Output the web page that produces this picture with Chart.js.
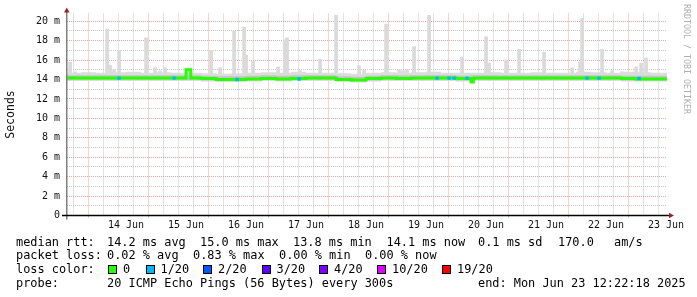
<!DOCTYPE html>
<html>
<head>
<meta charset="utf-8">
<script src="https://cdn.jsdelivr.net/npm/chart.js@4.4.1/dist/chart.umd.min.js"></script>
<style>
  body { margin: 0; background: #fff; }
  #wrap { position: relative; width: 697px; height: 297px; overflow: hidden; background: #fff; }
  #graph { position: absolute; left: 0; top: 0; }
  .leg { position: absolute; font-family: 'DejaVu Sans Mono', monospace; font-size: 11.9px; line-height: 14px; color: #000; white-space: pre; }
  .box { position: absolute; width: 7px; height: 7px; border: 1px solid #000; }
  #credit { position: absolute; left: 682px; top: 4px; writing-mode: vertical-rl; font-family: 'DejaVu Sans Mono', monospace; font-size: 8.3px; color: #b0b0b0; }
</style>
</head>
<body>
<div id="wrap">
  <canvas id="graph" width="697" height="297"></canvas>
  <div id="credit">RRDTOOL / TOBI OETIKER</div>
  <div id="legend"></div>
</div>
<script>
// time axis in hours since 13 Jun 00:00, graph covers 13 Jun 12:22 -> 23 Jun 12:22
const startHour = 12.37;
const endHour = 252.37;
const dayLabels = ['13 Jun', '14 Jun', '15 Jun', '16 Jun', '17 Jun', '18 Jun', '19 Jun', '20 Jun', '21 Jun', '22 Jun', '23 Jun'];
const yTickValues = [0, 2, 4, 6, 8, 10, 12, 14, 16, 18, 20];

// median rtt (ms)
const medianHours = [12, 18, 24, 30, 36, 42, 48, 54, 60, 61.9, 62.1, 66, 72, 78, 84, 90, 96, 102, 108, 114, 120, 126, 132, 138, 144, 150, 156, 162, 168, 174, 174.9, 175.4, 180, 186, 192, 198, 204, 210, 216, 222, 228, 234, 240, 246, 252.4];
const medianMs = [14.15, 14.15, 14.15, 14.15, 14.15, 14.15, 14.15, 14.15, 14.15, 15.0, 14.15, 14.15, 14.1, 14.0, 14.0, 14.05, 14.1, 14.05, 14.1, 14.15, 14.15, 14.0, 13.95, 14.1, 14.15, 14.1, 14.15, 14.15, 14.15, 14.1, 13.75, 14.1, 14.15, 14.15, 14.15, 14.15, 14.15, 14.15, 14.15, 14.15, 14.15, 14.15, 14.1, 14.05, 14.05];

// smoke band around the median
const bandHours = [12, 18, 24, 30, 36, 42, 48, 54, 60, 66, 72, 78, 84, 90, 96, 102, 108, 114, 120, 126, 132, 138, 144, 150, 156, 162, 168, 174, 180, 186, 192, 198, 204, 210, 216, 222, 228, 234, 240, 246, 252.4];
const smokeTop = [14.8, 14.7, 14.75, 14.7, 14.75, 14.8, 14.7, 14.75, 14.7, 14.7, 14.65, 14.6, 14.65, 14.7, 14.75, 14.7, 14.8, 14.7, 14.7, 14.65, 14.6, 14.7, 14.75, 14.7, 14.75, 14.8, 14.7, 14.7, 14.7, 14.75, 14.7, 14.7, 14.75, 14.7, 14.7, 14.8, 14.75, 14.7, 14.8, 14.75, 14.7];
const smokeBottom = [13.85, 13.85, 13.85, 13.85, 13.85, 13.85, 13.85, 13.85, 13.85, 13.85, 13.8, 13.75, 13.75, 13.8, 13.85, 13.8, 13.85, 13.85, 13.85, 13.75, 13.7, 13.8, 13.85, 13.85, 13.85, 13.85, 13.85, 13.8, 13.85, 13.85, 13.85, 13.85, 13.85, 13.85, 13.85, 13.85, 13.85, 13.85, 13.8, 13.8, 13.8];
const innerTop = [14.45, 14.45, 14.45, 14.45, 14.45, 14.45, 14.45, 14.45, 14.45, 14.45, 14.4, 14.35, 14.35, 14.4, 14.45, 14.4, 14.45, 14.45, 14.45, 14.35, 14.3, 14.4, 14.45, 14.45, 14.45, 14.45, 14.45, 14.4, 14.45, 14.45, 14.45, 14.45, 14.45, 14.45, 14.45, 14.45, 14.45, 14.45, 14.4, 14.4, 14.4];
const innerBottom = [13.95, 13.95, 13.95, 13.95, 13.95, 13.95, 13.95, 13.95, 13.95, 13.95, 13.9, 13.85, 13.85, 13.9, 13.95, 13.9, 13.95, 13.95, 13.95, 13.85, 13.8, 13.9, 13.95, 13.95, 13.95, 13.95, 13.95, 13.9, 13.95, 13.95, 13.95, 13.95, 13.95, 13.95, 13.95, 13.95, 13.95, 13.95, 13.9, 13.9, 13.9];

// slow pings (smoke spikes)
const spikeHours = [13.6, 15.6, 28.4, 29.6, 31.2, 33.2, 44.0, 47.6, 49.6, 51.6, 70.0, 73.6, 79.2, 83.2, 84.0, 86.8, 90.8, 96.8, 99.6, 100.4, 102.8, 105.6, 113.6, 120.0, 129.2, 131.2, 140.0, 145.2, 146.8, 148.4, 151.2, 157.2, 167.2, 170.4, 180.0, 181.2, 188.0, 193.2, 203.2, 214.4, 217.6, 218.4, 226.4, 230.4, 234.4, 240.0, 242.0, 244.0, 246.8];
const spikeTopMs = [15.8, 14.8, 19.2, 15.5, 15.0, 17.0, 18.3, 15.2, 14.9, 15.2, 17.0, 15.2, 19.0, 19.4, 16.5, 15.9, 14.6, 15.3, 18.1, 18.3, 14.7, 14.9, 16.1, 20.6, 15.4, 15.0, 19.7, 15.0, 14.9, 15.0, 17.4, 20.6, 14.6, 16.3, 18.4, 15.7, 16.0, 17.1, 16.8, 15.2, 15.8, 20.3, 17.1, 14.9, 14.8, 15.3, 15.7, 16.2, 14.6];

// loss
const lossLevels = ['0', '1/20', '2/20', '3/20', '4/20', '10/20', '19/20'];
const lossColors = ['#26ff00', '#00b8ff', '#0059ff', '#5e00ff', '#7e00ff', '#dd00ff', '#ff0000'];
const lossHours = [33.2, 55.2, 80.4, 105.2, 160.4, 165.2, 167.2, 172.4, 220.4, 225.2, 241.2];
const lossLevelIdx = [1, 1, 1, 1, 1, 1, 1, 1, 1, 1, 1];

// legend text
const rttStats = ['14.2 ms avg', '15.0 ms max', '13.8 ms min', '14.1 ms now', '0.1 ms sd', '170.0', 'am/s'];
const lossStats = ['0.02 % avg', '0.83 % max', '0.00 % min', '0.00 % now'];
const probeText = '20 ICMP Echo Pings (56 Bytes) every 300s';
const endText = 'end: Mon Jun 23 12:22:18 2025';

function medianAt(h) {
  let v = medianMs[0];
  for (let i = 0; i < medianHours.length; i++) {
    if (medianHours[i] <= h) v = medianMs[i];
  }
  return v;
}

function pts(hours, vals) {
  return hours.map((h, i) => ({x: h, y: vals[i]}));
}

const gridRed = 'rgb(232,168,168)';
const gridGray = 'rgb(200,200,200)';

const axisArrows = {
  id: 'axisArrows',
  afterDraw(chart) {
    const ctx = chart.ctx;
    const a = chart.chartArea;
    ctx.save();
    // y axis
    ctx.strokeStyle = '#808080';
    ctx.lineWidth = 1.5;
    ctx.beginPath();
    ctx.moveTo(66.75, a.bottom + 4);
    ctx.lineTo(66.75, a.top - 3);
    ctx.stroke();
    // x axis
    ctx.strokeStyle = '#000';
    ctx.lineWidth = 1.5;
    ctx.beginPath();
    ctx.moveTo(62, a.bottom);
    ctx.lineTo(a.right + 3, a.bottom);
    ctx.stroke();
    ctx.fillStyle = '#9b2222';
    ctx.beginPath();
    ctx.moveTo(66.75, a.top - 6);
    ctx.lineTo(64, a.top - 1);
    ctx.lineTo(69.5, a.top - 1);
    ctx.fill();
    ctx.beginPath();
    ctx.moveTo(a.right + 7, a.bottom);
    ctx.lineTo(a.right + 2, a.bottom - 2.75);
    ctx.lineTo(a.right + 2, a.bottom + 2.75);
    ctx.fill();
    ctx.restore();
  }
};

const ctx = document.getElementById('graph').getContext('2d');
new Chart(ctx, {
  type: 'bar',
  data: {
    datasets: [
      {
        type: 'scatter',
        data: lossHours.map(h => ({x: h, y: medianAt(h)})),
        pointStyle: 'rect',
        pointRadius: 2.4,
        pointBorderWidth: 0,
        pointBackgroundColor: lossLevelIdx.map(i => lossColors[i]),
        order: -1
      },
      {
        type: 'line',
        data: pts(medianHours, medianMs),
        borderColor: lossColors[0],
        borderWidth: 3,
        stepped: 'after',
        pointRadius: 0,
        fill: false,
        order: 0
      },
      {
        type: 'line',
        data: pts(bandHours, innerTop),
        borderWidth: 0,
        borderColor: 'rgba(0,0,0,0)',
        stepped: 'after',
        pointRadius: 0,
        fill: '+1',
        backgroundColor: '#c4c4c4',
        order: 2
      },
      {
        type: 'line',
        data: pts(bandHours, innerBottom),
        borderWidth: 0,
        borderColor: 'rgba(0,0,0,0)',
        stepped: 'after',
        pointRadius: 0,
        fill: false,
        order: 2
      },
      {
        type: 'line',
        data: pts(bandHours, smokeTop),
        borderWidth: 0,
        borderColor: 'rgba(0,0,0,0)',
        stepped: 'after',
        pointRadius: 0,
        fill: '+1',
        backgroundColor: '#dcdcdc',
        order: 3
      },
      {
        type: 'line',
        data: pts(bandHours, smokeBottom),
        borderWidth: 0,
        borderColor: 'rgba(0,0,0,0)',
        stepped: 'after',
        pointRadius: 0,
        fill: false,
        order: 3
      },
      {
        type: 'bar',
        data: spikeHours.map((h, i) => ({x: h, y: [14.3, spikeTopMs[i]]})),
        backgroundColor: '#dadada',
        barThickness: 3,
        order: 4
      }
    ]
  },
  options: {
    responsive: false,
    animation: false,
    devicePixelRatio: 1,
    layout: { padding: { top: 13.5, right: 30, left: 0, bottom: 0 } },
    plugins: { legend: { display: false }, tooltip: { enabled: false } },
    scales: {
      x: {
        type: 'linear',
        min: startHour,
        max: endHour,
        offset: false,
        afterFit(s) { s.height = 297 - 215.5; },
        afterBuildTicks(s) {
          const t = [];
          for (let h = 18; h <= 252; h += 6) t.push({value: h});
          s.ticks = t;
        },
        border: { display: false, dash: [1, 1] },
        grid: {
          color: c => (c.tick && c.tick.value % 24 === 0) ? gridRed : gridGray,
          tickColor: c => (c.tick && c.tick.value % 24 === 0) ? gridRed : 'rgba(0,0,0,0)',
          tickLength: 2,
          lineWidth: 1
        },
        ticks: {
          autoSkip: false,
          maxRotation: 0,
          padding: 2,
          color: '#111',
          font: { family: 'DejaVu Sans Mono', size: 10 },
          callback: v => (v % 24 === 12) ? dayLabels[Math.floor(v / 24)] : ''
        }
      },
      y: {
        min: 0,
        max: 20.8,
        afterFit(s) { s.width = 67; },
        afterBuildTicks(s) {
          const t = [];
          for (let v = 0; v <= 20; v += 1) t.push({value: v});
          s.ticks = t;
        },
        border: { display: false, dash: [1, 1] },
        grid: {
          color: c => (c.tick && c.tick.value % 2 === 0) ? gridRed : gridGray,
          drawTicks: false,
          lineWidth: 1
        },
        ticks: {
          autoSkip: false,
          padding: 7,
          color: '#111',
          font: { family: 'DejaVu Sans Mono', size: 10 },
          callback: v => yTickValues.includes(v) ? (v === 0 ? '0' : v + ' m') : ''
        },
        title: {
          display: true,
          text: 'Seconds',
          color: '#111',
          padding: { top: 4, bottom: 0 },
          font: { family: 'DejaVu Sans Mono', size: 11.5 }
        }
      }
    }
  },
  plugins: [axisArrows]
});

// legend below the graph
const legend = document.getElementById('legend');
function addText(x, y, text) {
  const d = document.createElement('div');
  d.className = 'leg';
  d.style.left = x + 'px';
  d.style.top = (y - 7) + 'px';
  d.textContent = text;
  legend.appendChild(d);
}
const rttX = [107, 200, 293, 386.5, 478, 558, 614];
const lossX = [107, 193, 279, 365];
const boxX = [108, 145.5, 203, 261.5, 319, 377, 442];
const rowY = [241.5, 255.2, 269, 282.8];

addText(16, rowY[0], 'median rtt:');
rttStats.forEach((t, i) => addText(rttX[i], rowY[0], t));
addText(16, rowY[1], 'packet loss:');
lossStats.forEach((t, i) => addText(lossX[i], rowY[1], t));
addText(16, rowY[2], 'loss color:');
lossLevels.forEach((lvl, i) => {
  const b = document.createElement('div');
  b.className = 'box';
  b.style.left = boxX[i] + 'px';
  b.style.top = (rowY[2] - 4.5) + 'px';
  b.style.background = lossColors[i];
  legend.appendChild(b);
  addText(boxX[i] + 15, rowY[2], lvl);
});
addText(16, rowY[3], 'probe:');
addText(107, rowY[3], probeText);
addText(478, rowY[3], endText);
</script>
</body>
</html>
